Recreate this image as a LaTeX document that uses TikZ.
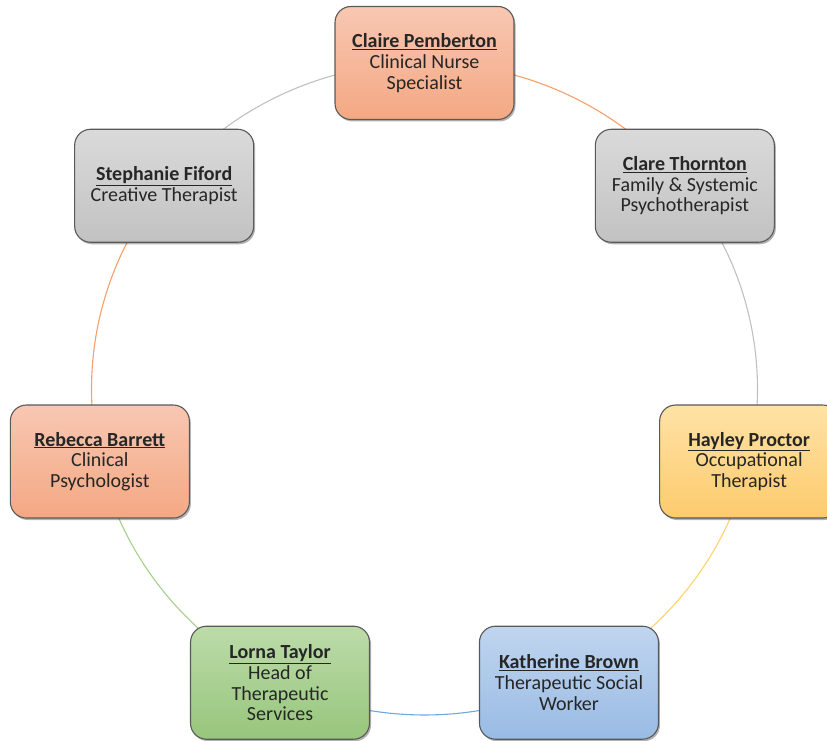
\documentclass[tikz,border=0pt]{standalone}
\usepackage{fontspec}
\setmainfont{Carlito}
\usetikzlibrary{shadows,backgrounds}
\definecolor{orTop}{HTML}{F8C7B2}
\definecolor{orBot}{HTML}{F4A883}
\definecolor{grTop}{HTML}{DADADA}
\definecolor{grBot}{HTML}{C2C2C2}
\definecolor{yeTop}{HTML}{FFE2A6}
\definecolor{yeBot}{HTML}{FCCB6C}
\definecolor{blTop}{HTML}{C0D5EF}
\definecolor{blBot}{HTML}{99BBE4}
\definecolor{gnTop}{HTML}{BCDBA9}
\definecolor{gnBot}{HTML}{97C67C}
\definecolor{cardEdge}{HTML}{595959}
\definecolor{txt}{HTML}{262626}
\definecolor{orLine}{HTML}{F4A06A}
\definecolor{grLine}{HTML}{C0C0C0}
\definecolor{yeLine}{HTML}{FDD36E}
\definecolor{blLine}{HTML}{6FA7DD}
\definecolor{gnLine}{HTML}{A6CF8C}
\newcommand{\pname}[1]{\underline{\textbf{#1}}}
\begin{document}
\begin{tikzpicture}[x=1pt,y=1pt,
  card/.style={draw=cardEdge, line width=1.1pt, rounded corners=16pt,
    minimum width=179pt, minimum height=113pt, inner sep=0pt,
    align=center, text=txt, font=\fontsize{20}{20.8}\selectfont,
    drop shadow={shadow xshift=1.5pt, shadow yshift=-2pt, opacity=0.3, fill=black}},
  orcard/.style={card, top color=orTop, bottom color=orBot},
  grcard/.style={card, top color=grTop, bottom color=grBot},
  yecard/.style={card, top color=yeTop, bottom color=yeBot},
  blcard/.style={card, top color=blTop, bottom color=blBot},
  gncard/.style={card, top color=gnTop, bottom color=gnBot},
  link/.style={line width=1.1pt},
  ring/.style={x radius=333pt, y radius=326pt}
]
\useasboundingbox (0,0) rectangle (827,740);
\coordinate (O) at (424.5,351);
\path (O) ++(90:333pt and 326pt) node[orcard] (claire) {\pname{Claire Pemberton}\\Clinical Nurse\\Specialist};
\path (O) ++(38.571:333pt and 326pt) node[grcard] (clare) {\pname{Clare Thornton}\\Family \& Systemic\\Psychotherapist};
\path (O) ++(-12.857:333pt and 326pt) node[yecard] (hayley) {\pname{Hayley Proctor}\\Occupational\\Therapist};
\path (O) ++(-64.286:333pt and 326pt) node[blcard] (katherine) {\pname{Katherine Brown}\\Therapeutic Social\\Worker};
\path (O) ++(-115.714:333pt and 326pt) node[gncard] (lorna) {\pname{Lorna Taylor}\\Head of\\Therapeutic\\Services};
\path (O) ++(192.857:333pt and 326pt) node[orcard] (rebecca) {\pname{Rebecca Barrett}\\Clinical\\Psychologist};
\path (O) ++(141.429:333pt and 326pt) node[grcard] (stephanie) {\pname{Stephanie Fiford}\\Creative Therapist};
\begin{scope}[on background layer]
\draw[link, draw=orLine] (claire.center) arc[ring, start angle=90, end angle=38.571];
\draw[link, draw=grLine] (clare.center) arc[ring, start angle=38.571, end angle=-12.857];
\draw[link, draw=yeLine] (hayley.center) arc[ring, start angle=-12.857, end angle=-64.286];
\draw[link, draw=blLine] (katherine.center) arc[ring, start angle=-64.286, end angle=-115.714];
\draw[link, draw=gnLine] (lorna.center) arc[ring, start angle=-115.714, end angle=-167.143];
\draw[link, draw=orLine] (rebecca.center) arc[ring, start angle=192.857, end angle=141.429];
\draw[link, draw=grLine] (stephanie.center) arc[ring, start angle=141.429, end angle=90];
\end{scope}
\end{tikzpicture}
\end{document}
